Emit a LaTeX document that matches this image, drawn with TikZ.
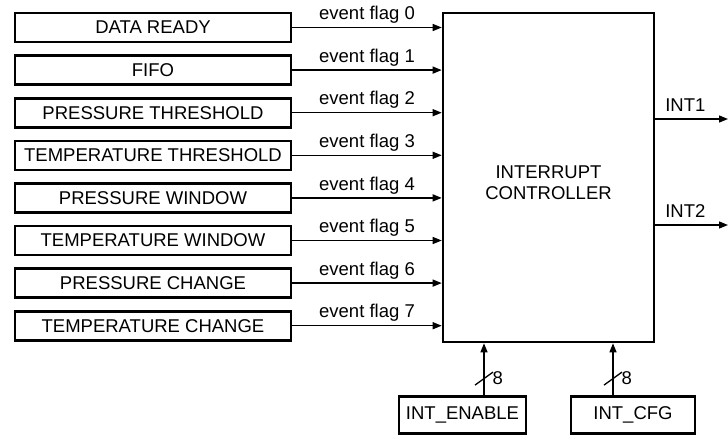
\documentclass[tikz,border=0pt]{standalone}
\usepackage{fontspec}
\setmainfont{Liberation Sans}
\usetikzlibrary{arrows.meta}
\begin{document}
\begin{tikzpicture}[x=1pt,y=-1pt,
font=\fontsize{18.5}{21}\selectfont,
src/.style ={rectangle, draw=black, line width=2.6pt,
  minimum width=276pt, minimum height=29pt,
  inner sep=0pt
},
reg/.style ={rectangle, draw=black, line width=2.6pt,
  minimum height=37pt, inner sep=0pt
},
ctrlbox/.style ={rectangle, draw=black, line width=2.6pt,
  minimum width=211pt, minimum height=329pt
},
flag/.style ={line width=1.3pt, -{Triangle[length=9pt,width=7pt]}}
]
\useasboundingbox (0,0) rectangle (728,436);
% event sources
\node (s0) at (153,27.5) [src] {DATA READY};
\node (s1) at (153,70.1) [src] {FIFO};
\node (s2) at (153,112.7) [src] {PRESSURE THRESHOLD};
\node (s3) at (153,155.3) [src] {TEMPERATURE THRESHOLD};
\node (s4) at (153,197.9) [src] {PRESSURE WINDOW};
\node (s5) at (153,240.5) [src] {TEMPERATURE WINDOW};
\node (s6) at (153,283.1) [src] {PRESSURE CHANGE};
\node (s7) at (153,325.7) [src] {TEMPERATURE CHANGE};
% controller and registers
\node (ctrl) at (548.5,177.5) [ctrlbox,
  label={[yshift=-5.5pt, align=center]center:INTERRUPT\\CONTROLLER}] {};
\node (en) at (462.5,415) [reg, minimum width=127pt] {INT\_ENABLE};
\node (cfg) at (633,415) [reg, minimum width=124pt] {INT\_CFG};
\coordinate (int1) at (728,119);
\coordinate (int2) at (728,225);
% flags
\draw[flag] (s0.east) -- (ctrl.west |- s0.east) node[midway,above] {event flag 0};
\draw[flag] (s1.east) -- (ctrl.west |- s1.east) node[midway,above] {event flag 1};
\draw[flag] (s2.east) -- (ctrl.west |- s2.east) node[midway,above] {event flag 2};
\draw[flag] (s3.east) -- (ctrl.west |- s3.east) node[midway,above] {event flag 3};
\draw[flag] (s4.east) -- (ctrl.west |- s4.east) node[midway,above] {event flag 4};
\draw[flag] (s5.east) -- (ctrl.west |- s5.east) node[midway,above] {event flag 5};
\draw[flag] (s6.east) -- (ctrl.west |- s6.east) node[midway,above] {event flag 6};
\draw[flag] (s7.east) -- (ctrl.west |- s7.east) node[midway,above] {event flag 7};
% outputs
\draw[flag] (ctrl.east |- int1) -- (int1)
  node[pos=0, above right, xshift=6pt, yshift=4pt] {INT1};
\draw[flag] (ctrl.east |- int2) -- (int2)
  node[pos=0, above right, xshift=6pt, yshift=4pt] {INT2};
% configuration buses
\draw[flag] ([xshift=21.5pt]en.north) -- ([xshift=21.5pt]en.north |- ctrl.south)
  coordinate[pos=0.32] (enbus);
\draw[line width=1.3pt] ([shift={(-9,6.5)}]enbus) -- ([shift={(9,-6.5)}]enbus);
\node[right, xshift=5pt] at (enbus) {8};
\draw[flag] ([xshift=-20pt]cfg.north) -- ([xshift=-20pt]cfg.north |- ctrl.south)
  coordinate[pos=0.32] (cfgbus);
\draw[line width=1.3pt] ([shift={(-9,6.5)}]cfgbus) -- ([shift={(9,-6.5)}]cfgbus);
\node[right, xshift=5pt] at (cfgbus) {8};
\end{tikzpicture}
\end{document}
